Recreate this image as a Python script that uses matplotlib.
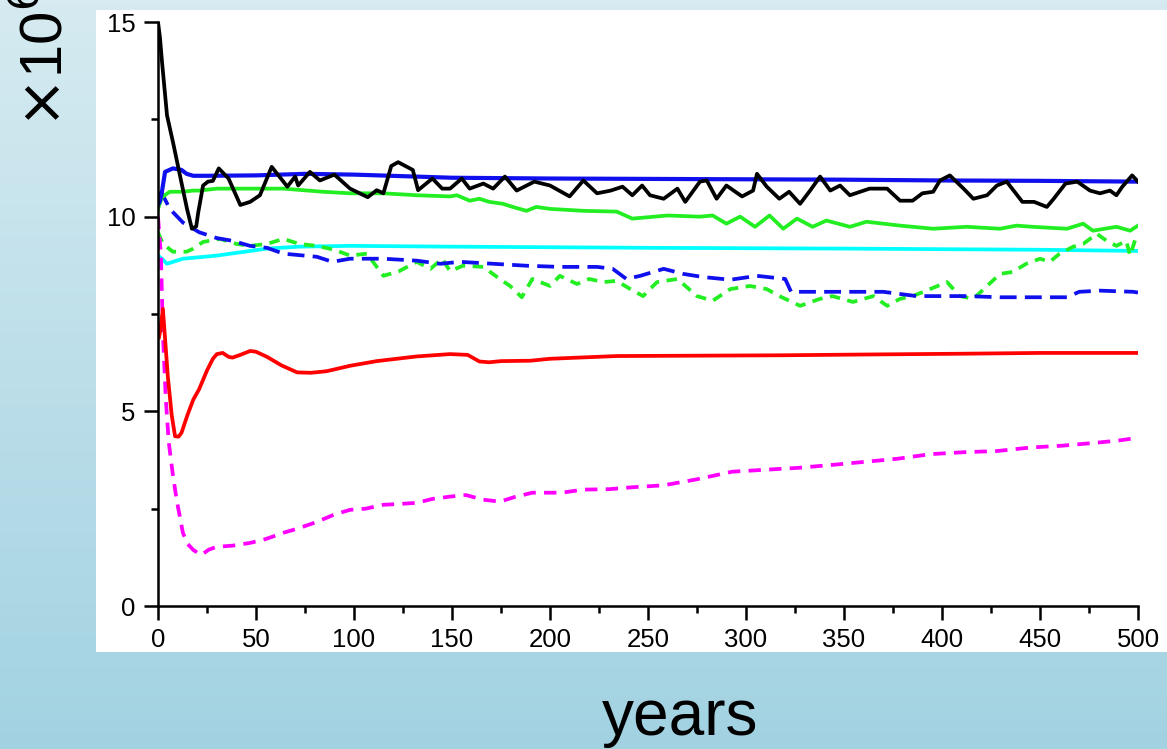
import matplotlib

matplotlib.use("AGG")

import matplotlib.pyplot as plt  # noqa: E402
import numpy as np  # noqa: E402
from matplotlib.patches import Rectangle  # noqa: E402
from matplotlib.ticker import MultipleLocator  # noqa: E402

plt.rcParams["font.family"] = ["Liberation Sans", "DejaVu Sans"]

W, H = 1167, 749

# black solid
black_x = [0, 1, 2, 4.6, 7.7, 11.2, 14.8, 17.3, 19.5, 20.5, 23, 25.5, 28, 31, 36,
           42, 47, 52, 58, 66, 70, 71.5, 77.5, 82.6, 90, 98, 107, 111.6, 115,
           119, 122.5, 130, 132.7, 140, 145, 149, 155, 159, 166, 171, 177, 183,
           192, 200, 210, 217, 224, 231, 237, 242, 247, 251, 258, 265, 269,
           276.5, 280, 285, 290, 298, 303.6, 305.6, 310.6, 317, 322, 327.6,
           332.7, 337.8, 343, 348, 353, 363, 372, 378.6, 385, 390, 395.5, 399,
           404, 411, 416, 423, 428, 433, 441, 447, 453.5, 457, 463, 469, 475.5,
           480.6, 485.7, 489, 492, 497, 500]
black_y = [15.0, 14.6, 14.0, 12.6, 11.9, 11.06, 10.2, 9.69, 9.75, 10.1, 10.8,
           10.9, 10.92, 11.24, 10.98, 10.3, 10.38, 10.55, 11.28, 10.77, 11.03,
           10.8, 11.15, 10.93, 11.08, 10.72, 10.5, 10.68, 10.6, 11.3, 11.4,
           11.2, 10.68, 10.98, 10.72, 10.72, 10.98, 10.72, 10.85, 10.72, 11.03,
           10.67, 10.9, 10.8, 10.52, 10.93, 10.6, 10.67, 10.77, 10.55, 10.8,
           10.55, 10.46, 10.72, 10.38, 10.9, 10.93, 10.46, 10.8, 10.52, 10.67,
           11.1, 10.77, 10.46, 10.64, 10.33, 10.67, 11.03, 10.67, 10.8, 10.55,
           10.72, 10.72, 10.41, 10.41, 10.6, 10.64, 10.93, 11.06, 10.72, 10.46,
           10.55, 10.8, 10.9, 10.38, 10.38, 10.25, 10.46, 10.85, 10.9, 10.67,
           10.6, 10.67, 10.55, 10.77, 11.06, 10.9]

# blue solid
blue_x = [0, 1, 2, 3.6, 7.6, 12, 14.6, 18, 25, 50, 75, 100, 150, 200, 250,
          300, 350, 400, 450, 500]
blue_y = [10.3, 10.4, 10.64, 11.15, 11.24, 11.2, 11.1, 11.05, 11.05, 11.06,
          11.1, 11.08, 11.0, 10.98, 10.97, 10.96, 10.95, 10.93, 10.92, 10.9]

# green solid
green_x = [0, 2, 6, 12.7, 18, 21, 30, 42, 64, 84, 98, 115, 132, 149, 152.5,
           159, 164, 169, 176, 181, 188, 193, 200, 217, 234, 242, 260, 276.5,
           283, 290, 297, 304.6, 312, 319, 326, 334, 341, 353, 361.5, 378.6,
           395.5, 412.6, 429.6, 438, 446, 463.8, 472, 477, 489, 496, 500]
green_y = [10.2, 10.5, 10.64, 10.64, 10.67, 10.67, 10.72, 10.72, 10.72, 10.64,
           10.6, 10.6, 10.55, 10.52, 10.55, 10.41, 10.46, 10.38, 10.33, 10.25,
           10.15, 10.25, 10.2, 10.15, 10.13, 9.95, 10.03, 10.0, 10.03, 9.82,
           10.0, 9.74, 10.03, 9.69, 9.95, 9.74, 9.9, 9.74, 9.87, 9.77, 9.69,
           9.74, 9.69, 9.77, 9.74, 9.69, 9.82, 9.64, 9.74, 9.64, 9.77]

# cyan solid
cyan_x = [0, 2, 4.6, 12.7, 30, 47, 55.6, 72, 98, 149, 250, 350, 450, 500]
cyan_y = [9.0, 8.92, 8.79, 8.92, 9.0, 9.12, 9.18, 9.23, 9.25, 9.23, 9.2, 9.18,
          9.15, 9.12]

# red solid
red_x = [0.5, 1, 2.5, 5, 7, 8.7, 10.5, 12, 15, 18, 21, 25, 28, 30, 33, 36, 38,
         42, 47, 50, 55.6, 63, 71, 78, 86, 98, 111.6, 132, 149, 158, 164, 169,
         175, 190, 200, 234, 276.5, 319, 361.5, 410.7, 450, 500]
red_y = [6.9, 7.03, 7.63, 5.9, 4.9, 4.36, 4.35, 4.45, 4.9, 5.3, 5.57, 6.05,
         6.35, 6.47, 6.5, 6.4, 6.38, 6.45, 6.55, 6.53, 6.4, 6.18, 6.0, 5.99,
         6.03, 6.17, 6.29, 6.41, 6.47, 6.45, 6.28, 6.26, 6.29, 6.3, 6.35, 6.42,
         6.43, 6.44, 6.46, 6.48, 6.5, 6.5]

# magenta dashed
magenta_x = [0, 1.5, 2.5, 4, 5.5, 7.5, 9.5, 12.7, 15, 18, 22, 26, 30, 38, 47,
             55, 64, 72, 81, 90, 98, 106, 115, 123, 132, 140, 149, 157, 166,
             174.5, 182, 191, 206, 217, 230, 242, 258, 274.5, 293, 310, 327,
             343, 360, 377, 394, 411, 428, 445, 462, 480, 490, 500]
magenta_y = [10.0, 9.0, 7.0, 5.3, 4.2, 3.4, 2.73, 1.88, 1.6, 1.44, 1.31, 1.45,
             1.52, 1.55, 1.62, 1.72, 1.88, 2.0, 2.16, 2.35, 2.47, 2.5, 2.6,
             2.62, 2.65, 2.75, 2.81, 2.85, 2.73, 2.68, 2.8, 2.91, 2.91, 2.99,
             3.0, 3.05, 3.1, 3.25, 3.45, 3.5, 3.55, 3.62, 3.7, 3.78, 3.9, 3.95,
             3.98, 4.07, 4.12, 4.2, 4.25, 4.32]

# blue dashed
bluedash_x = [0, 2, 6, 12.7, 21, 30, 38, 47, 55.6, 64, 81, 89, 98, 115, 132,
              144, 154, 171, 188, 205, 224, 232, 239, 246, 258, 268, 278, 292,
              305.6, 320, 323, 336, 353, 370, 387, 412.6, 429.6, 446, 463.8,
              470, 480.6, 497.6, 500]
bluedash_y = [10.6, 10.6, 10.2, 9.85, 9.6, 9.45, 9.38, 9.25, 9.2, 9.05, 8.97,
              8.84, 8.92, 8.92, 8.87, 8.79, 8.84, 8.79, 8.74, 8.71, 8.71, 8.66,
              8.4, 8.48, 8.66, 8.53, 8.45, 8.38, 8.48, 8.4, 8.07, 8.07, 8.07,
              8.07, 7.96, 7.96, 7.93, 7.93, 7.93, 8.07, 8.1, 8.07, 8.05]

# green dashed
greendash_x = [0, 2.5, 7.6, 14.6, 18, 23, 31.6, 40, 47, 55.6, 64, 72, 81, 90,
               98, 106.6, 115, 123, 132, 139, 145, 149, 155.6, 166, 173, 179.6,
               185.6, 191, 200, 205, 213.8, 220, 227, 234, 241, 247.5, 254.6,
               265, 275, 283, 292, 302, 310.6, 317, 327.6, 337.8, 344, 354.6,
               365, 372, 378.6, 385, 392, 402.6, 409, 416, 423, 429.6, 436, 443,
               450, 455, 460, 467, 472, 479, 484, 489, 494, 496, 499, 500]
greendash_y = [9.6, 9.3, 9.1, 9.1, 9.18, 9.35, 9.43, 9.3, 9.25, 9.3, 9.43, 9.3,
               9.25, 9.15, 9.0, 9.05, 8.48, 8.6, 8.84, 8.66, 8.92, 8.6, 8.74,
               8.71, 8.45, 8.22, 7.93, 8.4, 8.22, 8.48, 8.27, 8.4, 8.32, 8.35,
               8.14, 7.96, 8.32, 8.4, 7.96, 7.84, 8.14, 8.22, 8.14, 7.96, 7.71,
               7.89, 7.96, 7.81, 7.96, 7.71, 7.89, 7.96, 8.1, 8.32, 7.96, 7.89,
               8.22, 8.53, 8.58, 8.79, 8.92, 8.84, 9.05, 9.23, 9.3, 9.56, 9.38,
               9.25, 9.38, 9.0, 9.48, 9.43]

x_ticks = [0, 50, 100, 150, 200, 250, 300, 350, 400, 450, 500]
y_ticks = [0, 5, 10, 15]


fig = plt.figure(figsize=(W / 100, H / 100), dpi=100)

# slide background: light blue vertical gradient with a white panel
bg = fig.add_axes([0, 0, 1, 1])
grad = np.linspace(0, 1, 256).reshape(-1, 1)
top = np.array([0.84, 0.92, 0.945])
bottom = np.array([0.635, 0.825, 0.885])
img = top + (bottom - top) * grad[:, :, None]
bg.imshow(img, extent=[0, 1, 0, 1], aspect="auto", origin="upper")
bg.add_patch(Rectangle((96 / W, 1 - 652 / H), (W - 96) / W, 642 / H,
                       facecolor="white", edgecolor="none"))
bg.set_xlim(0, 1)
bg.set_ylim(0, 1)
bg.axis("off")

ax = fig.add_axes([158 / W, 1 - 606 / H, 980 / W, 584 / H])
ax.set_facecolor("none")

lw = 2.7
ax.plot(cyan_x, cyan_y, color="#00ffff", lw=lw)
ax.plot(greendash_x, greendash_y, color="#22ee22", lw=lw, ls=(0, (2.8, 2.0)))
ax.plot(bluedash_x, bluedash_y, color="#1010ee", lw=lw, ls=(0, (4.5, 2.2)))
ax.plot(magenta_x, magenta_y, color="#ff00ff", lw=lw, ls=(0, (3.3, 2.2)))
ax.plot(red_x, red_y, color="#ff0000", lw=lw)
ax.plot(green_x, green_y, color="#22ee22", lw=lw)
ax.plot(blue_x, blue_y, color="#1010ee", lw=lw + 0.3)
ax.plot(black_x, black_y, color="black", lw=lw)

ax.set_xlim(0, 500)
ax.set_ylim(0, 15)
ax.set_xticks(x_ticks)
ax.set_yticks(y_ticks)
ax.xaxis.set_minor_locator(MultipleLocator(25))
ax.yaxis.set_minor_locator(MultipleLocator(2.5))
for side in ("top", "right"):
    ax.spines[side].set_visible(False)
for side in ("left", "bottom"):
    ax.spines[side].set_linewidth(1.8)
ax.tick_params(which="major", length=10, width=1.8, labelsize=18.5, pad=6)
ax.tick_params(which="minor", length=5, width=1.8)

fig.text(45 / W, 1 - 128 / H, r"$\times$10$^6$", rotation=90, fontsize=43,
         ha="center", va="bottom")
fig.text(680 / W, 1 - 735 / H, "years", fontsize=46, ha="center",
         va="baseline")

plt.savefig("out.png", dpi=100)
plt.close()
